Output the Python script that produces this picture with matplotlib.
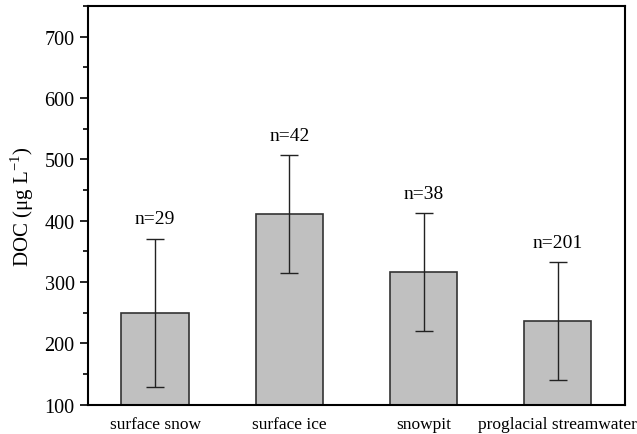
import matplotlib
matplotlib.use("Agg")
import matplotlib.pyplot as plt
from matplotlib.ticker import MultipleLocator

plt.rcParams['font.family'] = ['Liberation Serif', 'DejaVu Serif']
plt.rcParams['mathtext.fontset'] = 'custom'
plt.rcParams['mathtext.rm'] = 'Liberation Serif'

categories = ["surface snow", "surface ice", "snowpit", "proglacial streamwater"]
doc_mean = [250, 411, 317, 237]
doc_sd = [121, 96, 96, 96]
n_labels = ["n=29", "n=42", "n=38", "n=201"]

fig = plt.figure(figsize=(6.37, 4.35), dpi=100)
ax = fig.add_axes([0.138, 0.067, 0.843, 0.917])

x = range(len(categories))
ax.bar(x, [m - 100 for m in doc_mean], bottom=100, width=0.5, color="#c0c0c0",
       edgecolor="#333333", linewidth=1.2, zorder=2)
ax.errorbar(x, doc_mean, yerr=doc_sd, fmt="none", ecolor="#222222",
            elinewidth=1.0, capsize=6.5, capthick=1.0, zorder=3)
for xi, m, s, lab in zip(x, doc_mean, doc_sd, n_labels):
    ax.text(xi, m + s + 32, lab, ha="center", va="center", fontsize=14)

ax.set_xlim(-0.5, 3.5)
ax.set_ylim(100, 750)
ax.set_xticks(list(x))
ax.set_xticklabels(categories, fontsize=12.5)
ax.yaxis.set_major_locator(MultipleLocator(100))
ax.yaxis.set_minor_locator(MultipleLocator(50))
ax.set_yticks(range(100, 701, 100))
ax.tick_params(axis="y", which="major", direction="out", length=6, width=1.2, labelsize=14.5, right=False)
ax.tick_params(axis="y", which="minor", direction="out", length=3.5, width=1.2, right=False)
ax.tick_params(axis="x", length=0, pad=8)
for sp in ax.spines.values():
    sp.set_linewidth(1.5)
ax.set_ylabel("DOC (μg L$^{-1}$)", fontsize=15, labelpad=6)

fig.savefig("out.png", dpi=100)
